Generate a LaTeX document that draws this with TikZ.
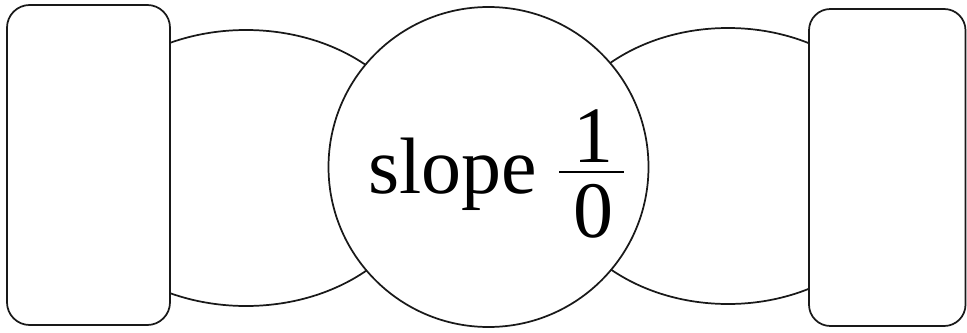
\documentclass[tikz,border=0pt]{standalone}
\usepackage{fontspec}
\setmainfont{Liberation Serif}
\begin{document}
\begin{tikzpicture}[x=0.75pt,y=-0.75pt,
  blob/.style={draw=black!90,fill=white,line width=1.3pt},
  big/.style={font=\fontsize{60}{70}\selectfont,inner sep=0pt}]
\useasboundingbox (0,0) rectangle (967,332);
% ellipses behind
\draw[blob] (246,168) ellipse [x radius=180, y radius=138];
\draw[blob] (728,166) ellipse [x radius=177, y radius=138];
% rounded rectangles
\draw[blob,rounded corners=17pt] (7,5) rectangle (170,325);
\draw[blob,rounded corners=16pt] (809,9) rectangle (965.5,326);
% central circle
\draw[blob] (488.5,167) circle [radius=160];
% text
\node[big,anchor=base west] (slope) at (368,193) {slope};
\node[big,anchor=base] (num) at (593,162) {1};
\node[big,anchor=base] (den) at (593,237) {0};
\coordinate (bl) at (559,172);
\coordinate (br) at (624,172);
\draw[line width=1.6pt] (bl) -- (br);
\end{tikzpicture}
\end{document}
